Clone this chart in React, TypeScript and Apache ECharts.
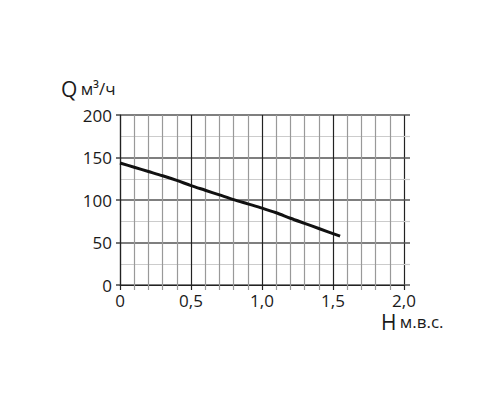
import { useEffect, useRef } from "react";
import * as echarts from "echarts";

// head H (м в.с.) vs flow Q (м³/ч)
const headValues = [0, 0.1, 0.2, 0.3, 0.4, 0.5, 0.6, 0.7, 0.8, 0.9, 1.0, 1.1, 1.2, 1.3, 1.4, 1.55];
const flowValues = [143.5, 138.5, 133.5, 128.5, 123, 117, 111.5, 106, 100.5, 95.5, 90.5, 85, 78.5, 72.5, 66.5, 57.5];
const xTickLabels = ["0", "0,5", "1,0", "1,5", "2,0"];
const yTickLabels = ["0", "50", "100", "150", "200"];

const FONT = "'Open Sans', 'DejaVu Sans', sans-serif";

export default function App() {
  const ref = useRef<HTMLDivElement | null>(null);

  useEffect(() => {
    if (!ref.current) return;
    const chart = echarts.init(ref.current, undefined, { renderer: "svg" });

    chart.setOption({
      animation: false,
      grid: { left: 120, right: 96, top: 115, bottom: 115 },
      xAxis: {
        type: "value",
        min: 0,
        max: 2,
        interval: 0.5,
        axisLine: { show: true, lineStyle: { color: "#222", width: 1.2 } },
        axisTick: { show: true, length: 5, lineStyle: { color: "#222", width: 1.2 } },
        minorTick: { show: true, splitNumber: 5, length: 5, lineStyle: { color: "#999", width: 1.2 } },
        splitLine: { show: true, lineStyle: { color: "#222", width: 1.2 } },
        minorSplitLine: { show: true, lineStyle: { color: "#999", width: 1.2 } },
        axisLabel: {
          margin: 7,
          fontSize: 17,
          color: "#1a1a1a",
          fontFamily: FONT,
          formatter: (v: number) => xTickLabels[Math.round(v / 0.5)] ?? "",
        },
      },
      yAxis: [
        {
          type: "value",
          min: 0,
          max: 200,
          interval: 50,
          axisLine: { show: true, lineStyle: { color: "#222", width: 1.2 } },
          axisTick: { show: true, length: 4, lineStyle: { color: "#444", width: 1.5 } },
          splitLine: { show: true, lineStyle: { color: "#555", width: 1.5 } },
          minorTick: { show: false, splitNumber: 2 },
          minorSplitLine: { show: true, lineStyle: { color: "#ccc", width: 1.2 } },
          axisLabel: {
            margin: 8,
            fontSize: 17,
            color: "#1a1a1a",
            fontFamily: FONT,
            formatter: (v: number) => yTickLabels[Math.round(v / 50)] ?? "",
          },
        },
        {
          // short stubs of the horizontal grid lines past 2,0
          type: "value",
          position: "right",
          min: 0,
          max: 200,
          interval: 50,
          axisLine: { show: false },
          axisTick: { show: true, length: 6, lineStyle: { color: "#555", width: 1.5 } },
          minorTick: { show: true, splitNumber: 2, length: 6, lineStyle: { color: "#ccc", width: 1.2 } },
          splitLine: { show: false },
          axisLabel: { show: false },
        },
      ],
      graphic: [
        {
          type: "text",
          x: 61,
          y: 78,
          style: {
            text: "{q|Q} {u|м³/ч}",
            fill: "#1a1a1a",
            rich: {
              q: { fontSize: 21, fontFamily: FONT, fill: "#1a1a1a" },
              u: { fontSize: 17, fontFamily: FONT, fill: "#1a1a1a" },
            },
          },
        },
        {
          type: "text",
          x: 381,
          y: 311,
          style: {
            text: "{h|H} {u|м.в.с.}",
            fill: "#1a1a1a",
            rich: {
              h: { fontSize: 21, fontFamily: FONT, fill: "#1a1a1a" },
              u: { fontSize: 17, fontFamily: FONT, fill: "#1a1a1a" },
            },
          },
        },
      ],
      series: [
        {
          type: "line",
          smooth: 0.3,
          showSymbol: false,
          data: headValues.map((h, i) => [h, flowValues[i]]),
          lineStyle: { color: "#111", width: 3 },
        },
      ],
    });

    return () => chart.dispose();
  }, []);

  return (
    <div
      ref={ref}
      style={{ position: "fixed", left: 0, top: 0, width: 500, height: 400, background: "#fff" }}
    />
  );
}
